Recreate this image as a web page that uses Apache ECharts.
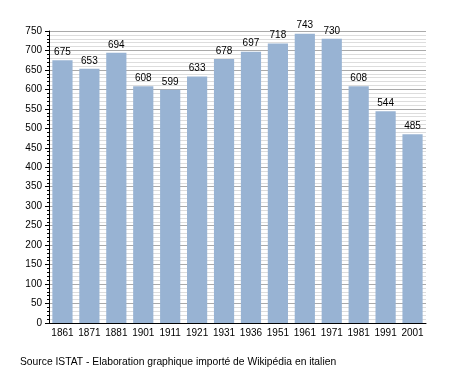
<!DOCTYPE html>
<html><head><meta charset="utf-8">
<script src="https://cdn.jsdelivr.net/npm/echarts@6/dist/echarts.min.js"></script>
<style>html,body{margin:0;padding:0;background:#fff}#c{width:455px;height:373px}</style>
</head><body><div id="c"></div>
<script>
const years = ['1861','1871','1881','1901','1911','1921','1931','1936','1951','1961','1971','1981','1991','2001'];
const population = [675,653,694,608,599,633,678,697,718,743,730,608,544,485];
const sourceText = 'Source ISTAT - Elaboration graphique importé de Wikipédia en italien';

const chart = echarts.init(document.getElementById('c'), null, {renderer:'canvas'});
chart.setOption({
  animation:false,
  backgroundColor:'#fff',
  textStyle:{fontFamily:'Liberation Sans, Arial, sans-serif'},
  graphic:[{type:'text', left:20, top:357, style:{text:sourceText, fill:'#000', font:'10.3px "Liberation Sans", Arial, sans-serif'}}],
  grid:{left:49, right:29, top:31, bottom:50, containLabel:false},
  xAxis:{
    type:'category', data:years,
    axisLine:{lineStyle:{color:'#000', width:1}},
    axisTick:{show:false},
    axisLabel:{color:'#000', fontSize:10, margin:5, interval:0}
  },
  yAxis:{
    type:'value', min:0, max:750, interval:50,
    axisLine:{show:true, lineStyle:{color:'#000', width:1}},
    axisTick:{show:true, length:4, lineStyle:{color:'#000'}},
    minorTick:{show:true, splitNumber:5, length:2, lineStyle:{color:'#000'}},
    splitLine:{show:true, lineStyle:{color:'#aaaaaa', width:1}},
    minorSplitLine:{show:true, lineStyle:{color:'#dddddd', width:1}},
    axisLabel:{color:'#000', fontSize:10, margin:7}
  },
  series:[{
    type:'bar', data:population, barCategoryGap:'25%',
    itemStyle:{color:'#98b3d3'},
    label:{show:true, position:'top', distance:3, color:'#000', fontSize:10}
  }]
});
</script></body></html>
